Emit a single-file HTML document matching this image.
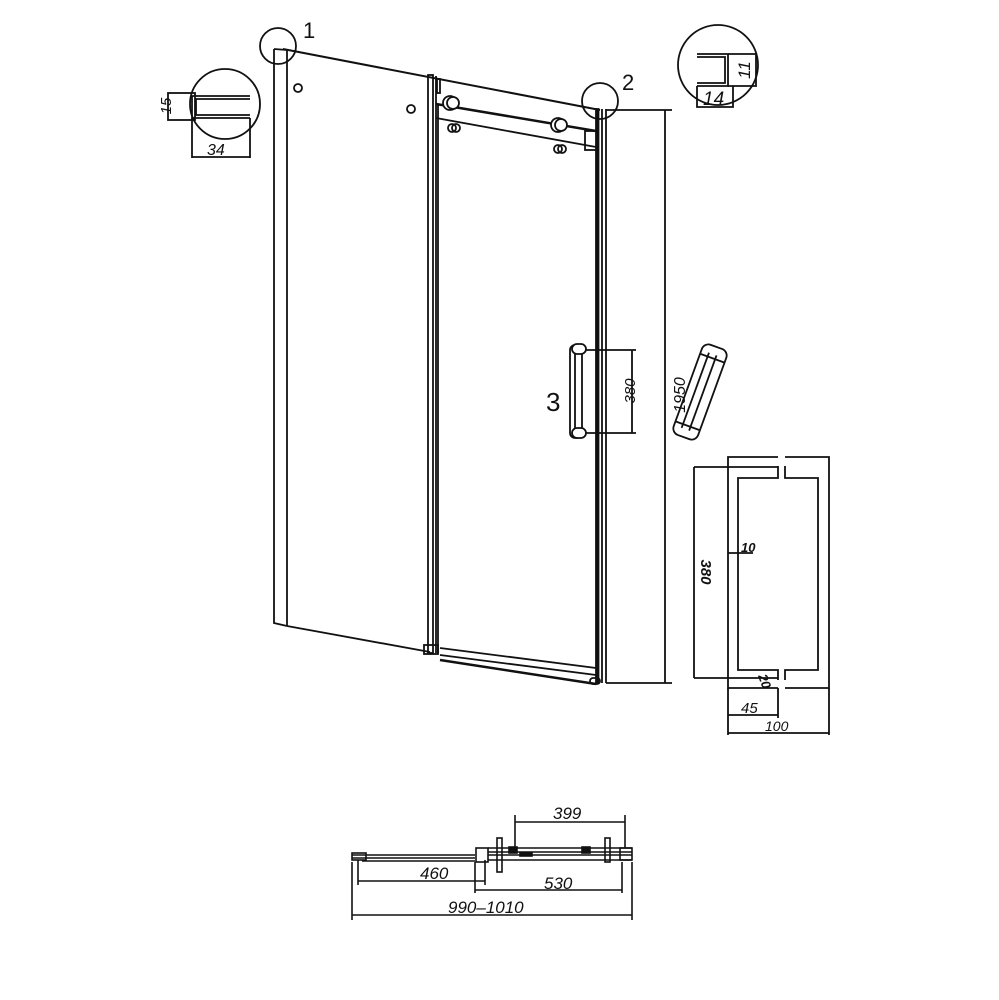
<!DOCTYPE html>
<html><head><meta charset="utf-8"><style>
html,body{margin:0;padding:0;background:#fff;}
svg{display:block}
text{font-family:"Liberation Sans",sans-serif;fill:#111}
.it{font-style:italic}
</style></head><body>
<svg width="999" height="1000" viewBox="0 0 999 1000" xmlns="http://www.w3.org/2000/svg">
<g fill="none" stroke="#111" stroke-width="1.8">
<!-- left fixed panel -->
<polyline points="274,49 274,623 287,626"/>
<line x1="287" y1="50" x2="287" y2="626"/>
<line x1="274" y1="49" x2="287" y2="50"/>
<line x1="283" y1="49" x2="600" y2="110" stroke-width="2"/>
<line x1="287" y1="626" x2="430" y2="652"/>
<circle cx="298" cy="88" r="4"/>
<circle cx="411" cy="109" r="4"/>
<!-- middle profile -->
<rect x="428" y="75" width="5" height="578"/>
<line x1="436" y1="76" x2="436" y2="653"/>
<line x1="438" y1="104" x2="438" y2="653"/>
<rect x="437" y="79" width="3" height="14"/>
<rect x="424" y="645" width="14" height="9"/>
<!-- top track -->
<line x1="436" y1="104" x2="596" y2="131" stroke-width="2.5"/>
<line x1="436" y1="118" x2="596" y2="147"/>
<rect x="585" y="131" width="12" height="19"/>
<circle cx="450" cy="103" r="7" fill="#fff"/>
<circle cx="453" cy="103" r="6" fill="#fff"/>
<circle cx="558" cy="125" r="7" fill="#fff"/>
<circle cx="561" cy="125" r="6" fill="#fff"/>
<circle cx="452" cy="128" r="4"/><circle cx="456" cy="128" r="4"/>
<circle cx="558" cy="149" r="4"/><circle cx="562" cy="149" r="4"/>
<!-- right profile -->
<rect x="596" y="109" width="2.5" height="574" fill="#111"/>
<line x1="602" y1="109" x2="602" y2="683"/>
<line x1="606" y1="109" x2="606" y2="683"/>
<!-- bottom rail -->
<line x1="440" y1="648" x2="596" y2="668"/>
<line x1="440" y1="655" x2="596" y2="675"/>
<line x1="440" y1="660" x2="596" y2="684" stroke-width="2.5"/>
<rect x="590" y="678" width="10" height="6" rx="3"/>
<!-- circles 1,2 -->
<circle cx="278" cy="46" r="18"/>
<circle cx="600" cy="101" r="18"/>
<!-- 1950 dim -->
<line x1="606" y1="110" x2="672" y2="110"/>
<line x1="606" y1="683" x2="672" y2="683"/>
<line x1="665" y1="110" x2="665" y2="683"/>
<!-- handle -->
<rect x="570" y="345" width="12" height="93" rx="5"/>
<line x1="575" y1="350" x2="575" y2="433"/>
<rect x="572" y="344" width="14" height="10" rx="5" fill="#fff"/>
<rect x="572" y="428" width="14" height="10" rx="5" fill="#fff"/>
<line x1="586" y1="350" x2="636" y2="350"/>
<line x1="586" y1="433" x2="636" y2="433"/>
<line x1="632" y1="350" x2="632" y2="433"/>
<!-- tilted handle -->
<g transform="translate(700,392) rotate(20)">
<rect x="-13" y="-48" width="26" height="96" rx="7"/>
<line x1="-5" y1="-40" x2="-5" y2="40"/>
<line x1="3" y1="-40" x2="3" y2="40"/>
<line x1="-13" y1="-36" x2="13" y2="-36"/>
<line x1="-13" y1="36" x2="13" y2="36"/>
</g>
<!-- handle detail -->
<polyline points="778,457 728,457 728,688 778,688"/>
<polyline points="785,457 829,457 829,688 785,688"/>
<polyline points="778,466 778,478 738,478 738,670 778,670 778,680"/>
<polyline points="785,466 785,478 818,478 818,670 785,670 785,680"/>
<line x1="694" y1="467" x2="778" y2="467"/>
<line x1="694" y1="678" x2="778" y2="678"/>
<line x1="694" y1="467" x2="694" y2="678"/>
<line x1="728" y1="553" x2="753" y2="553"/>
<line x1="728" y1="688" x2="728" y2="735"/>
<line x1="778" y1="688" x2="778" y2="718"/>
<line x1="829" y1="688" x2="829" y2="735"/>
<line x1="728" y1="715" x2="778" y2="715"/>
<line x1="728" y1="733" x2="829" y2="733"/>
<!-- left inset -->
<circle cx="225" cy="104" r="35"/>
<rect x="168" y="93" width="27" height="27"/>
<polyline points="250,96 192,96 192,118 250,118"/>
<polyline points="250,99 196,99 196,115 250,115"/>
<line x1="192" y1="118" x2="192" y2="158"/>
<line x1="250" y1="118" x2="250" y2="158"/>
<line x1="192" y1="157" x2="250" y2="157"/>
<!-- right inset -->
<circle cx="718" cy="65" r="40"/>
<polyline points="697,54 728,54 728,86 697,86"/>
<polyline points="697,57 725,57 725,83 697,83"/>
<polyline points="728,54 756,54 756,86 728,86"/>
<polyline points="697,86 697,107 733,107 733,86"/>
</g>
<g fill="none" stroke="#111" stroke-width="1.6">
<!-- bottom plan view -->
<rect x="352" y="853" width="14" height="7"/>
<line x1="352" y1="855" x2="475" y2="855"/>
<line x1="352" y1="858" x2="475" y2="858"/>
<line x1="362" y1="861" x2="475" y2="861"/>
<rect x="476" y="848" width="12" height="14"/>
<line x1="488" y1="848" x2="632" y2="848"/>
<line x1="488" y1="852" x2="632" y2="852"/>
<line x1="488" y1="855" x2="632" y2="855"/>
<line x1="488" y1="860" x2="632" y2="860"/>
<rect x="497" y="838" width="5" height="34"/>
<rect x="605" y="838" width="5" height="24"/>
<rect x="620" y="848" width="12" height="12"/>
<rect x="509" y="847" width="8" height="6" fill="#111"/>
<rect x="582" y="847" width="8" height="6" fill="#111"/>
<rect x="520" y="853" width="12" height="3" fill="#111"/>
<line x1="515" y1="815" x2="515" y2="848"/>
<line x1="625" y1="815" x2="625" y2="848"/>
<line x1="515" y1="822" x2="625" y2="822"/>
<line x1="358" y1="860" x2="358" y2="885"/>
<line x1="485" y1="860" x2="485" y2="885"/>
<line x1="358" y1="881" x2="485" y2="881"/>
<line x1="475" y1="862" x2="475" y2="893"/>
<line x1="622" y1="862" x2="622" y2="893"/>
<line x1="475" y1="890" x2="622" y2="890"/>
<line x1="352" y1="862" x2="352" y2="920"/>
<line x1="632" y1="862" x2="632" y2="920"/>
<line x1="352" y1="915" x2="632" y2="915"/>
</g>
<text x="303" y="38" font-size="22">1</text>
<text x="622" y="90" font-size="22">2</text>
<text x="546" y="411" font-size="26">3</text>
<text transform="translate(685,395) rotate(-90)" font-size="16" class="it" text-anchor="middle">1950</text>
<text transform="translate(635,391) rotate(-90)" font-size="15" class="it" text-anchor="middle">380</text>
<text transform="translate(701,572) rotate(90)" font-size="15" class="it" font-weight="bold" text-anchor="middle">380</text>
<text x="741" y="552" font-size="13" class="it" font-weight="bold">10</text>
<text transform="translate(758,676) rotate(70)" font-size="13" class="it" font-weight="bold">20</text>
<text x="741" y="713" font-size="15" class="it">45</text>
<text x="765" y="731" font-size="14" class="it">100</text>
<text transform="translate(171,106) rotate(-90)" font-size="15" text-anchor="middle" class="it">15</text>
<text x="207" y="155" font-size="16" class="it">34</text>
<text transform="translate(750,70) rotate(-90)" font-size="17" text-anchor="middle" class="it">11</text>
<text x="703" y="105" font-size="19" class="it">14</text>
<text x="553" y="819" font-size="17" class="it">399</text>
<text x="420" y="879" font-size="17" class="it">460</text>
<text x="544" y="889" font-size="17" class="it">530</text>
<text x="448" y="913" font-size="17" class="it">990–1010</text>
</svg>
</body></html>
